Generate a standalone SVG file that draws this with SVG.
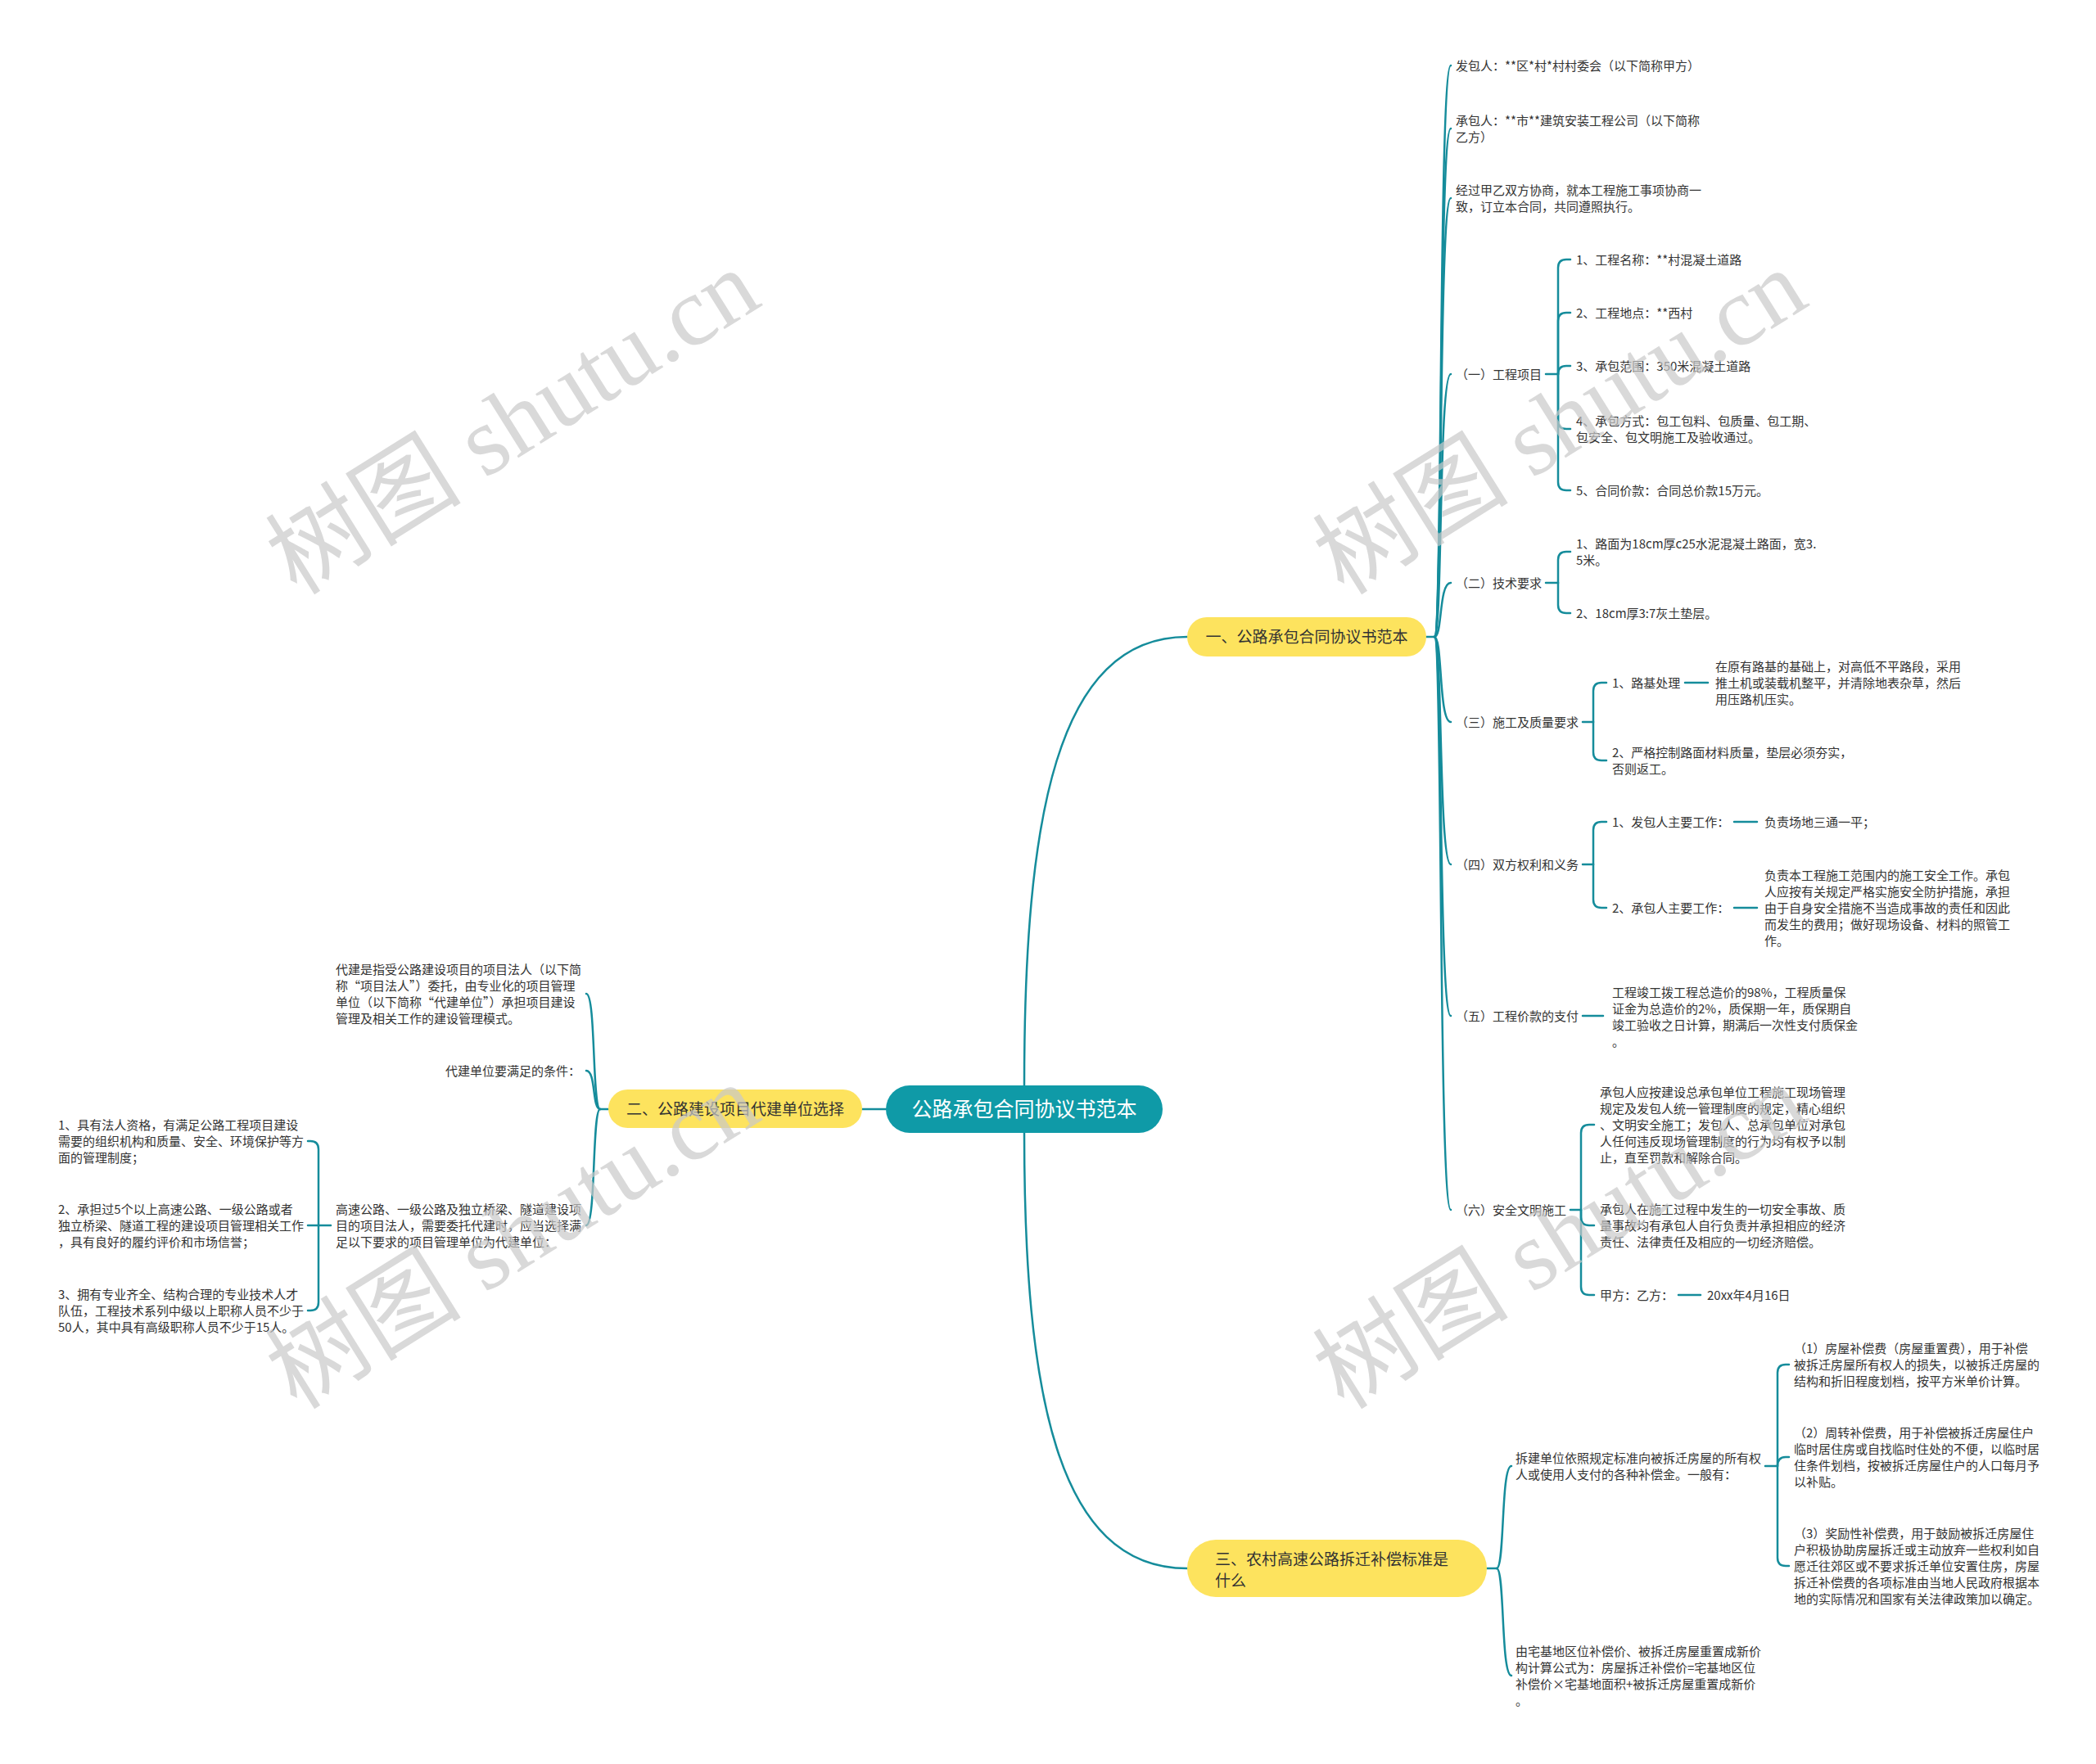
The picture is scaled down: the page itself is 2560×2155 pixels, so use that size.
<svg xmlns="http://www.w3.org/2000/svg" width="2560" height="2155" viewBox="0 0 2560 2155">
<style>
.t{font-family:"Noto Sans CJK SC","Noto Sans",sans-serif;font-size:15px;fill:#333}
.b{font-family:"Noto Sans CJK SC","Noto Sans",sans-serif;font-size:19px;fill:#333}
.r{font-family:"Noto Sans CJK SC","Noto Sans",sans-serif;font-size:25px;fill:#fff}
.c{fill:none;stroke:#158c9b;stroke-width:2.5;stroke-linecap:round;stroke-linejoin:round}
.pill{fill:#fde35e}
.root{fill:#0f9aa7}
.wm{font-family:"Liberation Serif","Noto Sans CJK SC",serif;font-size:120px;fill:#c9c9c9;opacity:.7}
</style>
<rect width="2560" height="2155" fill="#fff"/>
<g id="connectors">
<path class="c" d="M1251,1326 C1251,1000 1290,778 1450,778"/>
<path class="c" d="M1251,1384 C1251,1700 1290,1916 1450,1916"/>
<path class="c" d="M1082,1355 L1053,1355"/>
<path class="c" d="M1742,778 L1752,778"/>
<path class="c" d="M1752,778 C1762,778 1757,80 1772,80"/>
<path class="c" d="M1752,778 C1762,778 1757,157 1772,157"/>
<path class="c" d="M1752,778 C1762,778 1757,242 1772,242"/>
<path class="c" d="M1752,778 C1762,778 1757,457 1772,457"/>
<path class="c" d="M1752,778 C1762,778 1757,712 1772,712"/>
<path class="c" d="M1752,778 C1762,778 1757,882 1772,882"/>
<path class="c" d="M1752,778 C1762,778 1757,1056 1772,1056"/>
<path class="c" d="M1752,778 C1762,778 1757,1241 1772,1241"/>
<path class="c" d="M1752,778 C1762,778 1757,1478 1772,1478"/>
<path class="c" d="M1888,457 L1903,457"/>
<path class="c" d="M1903,457 L1903,327 Q1903,317 1913,317 L1918,317"/>
<path class="c" d="M1903,457 L1903,392 Q1903,382 1913,382 L1918,382"/>
<path class="c" d="M1903,457 Q1903,447 1913,447 L1918,447"/>
<path class="c" d="M1903,457 L1903,514 Q1903,524 1913,524 L1918,524"/>
<path class="c" d="M1903,457 L1903,589 Q1903,599 1913,599 L1918,599"/>
<path class="c" d="M1888,712 L1903,712"/>
<path class="c" d="M1903,712 L1903,684 Q1903,674 1913,674 L1918,674"/>
<path class="c" d="M1903,712 L1903,739 Q1903,749 1913,749 L1918,749"/>
<path class="c" d="M1933,882 L1946,882"/>
<path class="c" d="M1946,882 L1946,844 Q1946,834 1956,834 L1962,834"/>
<path class="c" d="M1946,882 L1946,919 Q1946,929 1956,929 L1962,929"/>
<path class="c" d="M2058,834 L2086,834"/>
<path class="c" d="M1933,1056 L1946,1056"/>
<path class="c" d="M1946,1056 L1946,1014 Q1946,1004 1956,1004 L1962,1004"/>
<path class="c" d="M1946,1056 L1946,1099 Q1946,1109 1956,1109 L1962,1109"/>
<path class="c" d="M2118,1004 L2146,1004"/>
<path class="c" d="M2118,1109 L2146,1109"/>
<path class="c" d="M1933,1241 L1958,1241"/>
<path class="c" d="M1918,1478 L1931,1478"/>
<path class="c" d="M1931,1478 L1931,1384 Q1931,1374 1941,1374 L1947,1374"/>
<path class="c" d="M1931,1478 L1931,1487 Q1931,1497 1941,1497 L1947,1497"/>
<path class="c" d="M1931,1478 L1931,1572 Q1931,1582 1941,1582 L1947,1582"/>
<path class="c" d="M2050,1582 L2077,1582"/>
<path class="c" d="M1816,1916 L1828,1916"/>
<path class="c" d="M1828,1916 C1838,1916 1833,1791 1846,1791"/>
<path class="c" d="M1828,1916 C1838,1916 1833,2047 1846,2047"/>
<path class="c" d="M2156,1791 L2171,1791"/>
<path class="c" d="M2171,1791 L2171,1677 Q2171,1667 2181,1667 L2185,1667"/>
<path class="c" d="M2171,1791 Q2171,1780 2181,1780 L2185,1780"/>
<path class="c" d="M2171,1791 L2171,1903 Q2171,1913 2181,1913 L2185,1913"/>
<path class="c" d="M743,1355 L733,1355"/>
<path class="c" d="M733,1355 C723,1355 728,1214 716,1214"/>
<path class="c" d="M733,1355 C723,1355 728,1308 716,1308"/>
<path class="c" d="M733,1355 C723,1355 728,1497 716,1497"/>
<path class="c" d="M404,1497 L389,1497"/>
<path class="c" d="M389,1497 L389,1404 Q389,1394 379,1394 L376,1394"/>
<path class="c" d="M389,1497 L376,1497"/>
<path class="c" d="M389,1497 L389,1591 Q389,1601 379,1601 L376,1601"/>
</g>
<g id="root"><rect class="root" x="1082" y="1326" width="338" height="58" rx="29"/><text class="r" x="1251" y="1364" text-anchor="middle">公路承包合同协议书范本</text></g>
<g id="b1"><rect class="pill" x="1450" y="754" width="292" height="48" rx="24"/><text class="b" x="1596" y="785" text-anchor="middle">一、公路承包合同协议书范本</text></g>
<g id="b2"><rect class="pill" x="743" y="1331" width="310" height="47" rx="23.5"/><text class="b" x="898" y="1362" text-anchor="middle">二、公路建设项目代建单位选择</text></g>
<g id="b3"><rect class="pill" x="1450" y="1881" width="366" height="70" rx="35"/><text class="b"><tspan x="1484" y="1912">三、农村高速公路拆迁补偿标准是</tspan><tspan x="1484" y="1938">什么</tspan></text></g>
<g id="n1"><text class="t" x="1778" y="85.5">发包人：**区*村*村村委会（以下简称甲方）</text></g>
<g id="n2"><text class="t"><tspan x="1778" y="152.5">承包人：**市**建筑安装工程公司（以下简称</tspan><tspan x="1778" y="172.5">乙方）</tspan></text></g>
<g id="n3"><text class="t"><tspan x="1778" y="237.5">经过甲乙双方协商，就本工程施工事项协商一</tspan><tspan x="1778" y="257.5">致，订立本合同，共同遵照执行。</tspan></text></g>
<g id="s1"><text class="t" x="1778" y="462.5">（一）工程项目</text></g>
<g id="s1a"><text class="t" x="1925" y="322.5">1、工程名称：**村混凝土道路</text></g>
<g id="s1b"><text class="t" x="1925" y="387.5">2、工程地点：**西村</text></g>
<g id="s1c"><text class="t" x="1925" y="452.5">3、承包范围：350米混凝土道路</text></g>
<g id="s1d"><text class="t"><tspan x="1925" y="519.5">4、承包方式：包工包料、包质量、包工期、</tspan><tspan x="1925" y="539.5">包安全、包文明施工及验收通过。</tspan></text></g>
<g id="s1e"><text class="t" x="1925" y="604.5">5、合同价款：合同总价款15万元。</text></g>
<g id="s2"><text class="t" x="1778" y="717.5">（二）技术要求</text></g>
<g id="s2a"><text class="t"><tspan x="1925" y="669.5">1、路面为18cm厚c25水泥混凝土路面，宽3.</tspan><tspan x="1925" y="689.5">5米。</tspan></text></g>
<g id="s2b"><text class="t" x="1925" y="754.5">2、18cm厚3:7灰土垫层。</text></g>
<g id="s3"><text class="t" x="1778" y="887.5">（三）施工及质量要求</text></g>
<g id="s3a"><text class="t" x="1969" y="839.5">1、路基处理</text></g>
<g id="s3a1"><text class="t"><tspan x="2095" y="819.5">在原有路基的基础上，对高低不平路段，采用</tspan><tspan x="2095" y="839.5">推土机或装载机整平，并清除地表杂草，然后</tspan><tspan x="2095" y="859.5">用压路机压实。</tspan></text></g>
<g id="s3b"><text class="t"><tspan x="1969" y="924.5">2、严格控制路面材料质量，垫层必须夯实，</tspan><tspan x="1969" y="944.5">否则返工。</tspan></text></g>
<g id="s4"><text class="t" x="1778" y="1061.5">（四）双方权利和义务</text></g>
<g id="s4a"><text class="t" x="1969" y="1009.5">1、发包人主要工作：</text></g>
<g id="s4a1"><text class="t" x="2155" y="1009.5">负责场地三通一平；</text></g>
<g id="s4b"><text class="t" x="1969" y="1114.5">2、承包人主要工作：</text></g>
<g id="s4b1"><text class="t"><tspan x="2155" y="1074.5">负责本工程施工范围内的施工安全工作。承包</tspan><tspan x="2155" y="1094.5">人应按有关规定严格实施安全防护措施，承担</tspan><tspan x="2155" y="1114.5">由于自身安全措施不当造成事故的责任和因此</tspan><tspan x="2155" y="1134.5">而发生的费用；做好现场设备、材料的照管工</tspan><tspan x="2155" y="1154.5">作。</tspan></text></g>
<g id="s5"><text class="t" x="1778" y="1246.5">（五）工程价款的支付</text></g>
<g id="s5a"><text class="t"><tspan x="1969" y="1217.5">工程竣工拨工程总造价的98%，工程质量保</tspan><tspan x="1969" y="1237.5">证金为总造价的2%，质保期一年，质保期自</tspan><tspan x="1969" y="1257.5">竣工验收之日计算，期满后一次性支付质保金</tspan><tspan x="1969" y="1277.5">。</tspan></text></g>
<g id="s6"><text class="t" x="1778" y="1483.5">（六）安全文明施工</text></g>
<g id="s6a"><text class="t"><tspan x="1954" y="1339.5">承包人应按建设总承包单位工程施工现场管理</tspan><tspan x="1954" y="1359.5">规定及发包人统一管理制度的规定，精心组织</tspan><tspan x="1954" y="1379.5">、文明安全施工；发包人、总承包单位对承包</tspan><tspan x="1954" y="1399.5">人任何违反现场管理制度的行为均有权予以制</tspan><tspan x="1954" y="1419.5">止，直至罚款和解除合同。</tspan></text></g>
<g id="s6b"><text class="t"><tspan x="1954" y="1482.5">承包人在施工过程中发生的一切安全事故、质</tspan><tspan x="1954" y="1502.5">量事故均有承包人自行负责并承担相应的经济</tspan><tspan x="1954" y="1522.5">责任、法律责任及相应的一切经济赔偿。</tspan></text></g>
<g id="s6c"><text class="t" x="1954" y="1587.5">甲方：乙方：</text></g>
<g id="s6c1"><text class="t" x="2085" y="1587.5">20xx年4月16日</text></g>
<g id="c1"><text class="t"><tspan x="1851" y="1786.5">拆建单位依照规定标准向被拆迁房屋的所有权</tspan><tspan x="1851" y="1806.5">人或使用人支付的各种补偿金。一般有：</tspan></text></g>
<g id="c1a"><text class="t"><tspan x="2191" y="1652.5">（1）房屋补偿费（房屋重置费），用于补偿</tspan><tspan x="2191" y="1672.5">被拆迁房屋所有权人的损失，以被拆迁房屋的</tspan><tspan x="2191" y="1692.5">结构和折旧程度划档，按平方米单价计算。</tspan></text></g>
<g id="c1b"><text class="t"><tspan x="2191" y="1755.5">（2）周转补偿费，用于补偿被拆迁房屋住户</tspan><tspan x="2191" y="1775.5">临时居住房或自找临时住处的不便，以临时居</tspan><tspan x="2191" y="1795.5">住条件划档，按被拆迁房屋住户的人口每月予</tspan><tspan x="2191" y="1815.5">以补贴。</tspan></text></g>
<g id="c1c"><text class="t"><tspan x="2191" y="1878.5">（3）奖励性补偿费，用于鼓励被拆迁房屋住</tspan><tspan x="2191" y="1898.5">户积极协助房屋拆迁或主动放弃一些权利如自</tspan><tspan x="2191" y="1918.5">愿迁往郊区或不要求拆迁单位安置住房，房屋</tspan><tspan x="2191" y="1938.5">拆迁补偿费的各项标准由当地人民政府根据本</tspan><tspan x="2191" y="1958.5">地的实际情况和国家有关法律政策加以确定。</tspan></text></g>
<g id="c2"><text class="t"><tspan x="1851" y="2022.5">由宅基地区位补偿价、被拆迁房屋重置成新价</tspan><tspan x="1851" y="2042.5">构计算公式为：房屋拆迁补偿价=宅基地区位</tspan><tspan x="1851" y="2062.5">补偿价×宅基地面积+被拆迁房屋重置成新价</tspan><tspan x="1851" y="2082.5">。</tspan></text></g>
<g id="l1"><text class="t"><tspan x="410" y="1189.5">代建是指受公路建设项目的项目法人（以下简</tspan><tspan x="410" y="1209.5">称“项目法人”）委托，由专业化的项目管理</tspan><tspan x="410" y="1229.5">单位（以下简称“代建单位”）承担项目建设</tspan><tspan x="410" y="1249.5">管理及相关工作的建设管理模式。</tspan></text></g>
<g id="l2"><text class="t" x="709" y="1313.5" text-anchor="end">代建单位要满足的条件：</text></g>
<g id="l3"><text class="t"><tspan x="410" y="1482.5">高速公路、一级公路及独立桥梁、隧道建设项</tspan><tspan x="410" y="1502.5">目的项目法人，需要委托代建时，应当选择满</tspan><tspan x="410" y="1522.5">足以下要求的项目管理单位为代建单位：</tspan></text></g>
<g id="l3a"><text class="t"><tspan x="71" y="1379.5">1、具有法人资格，有满足公路工程项目建设</tspan><tspan x="71" y="1399.5">需要的组织机构和质量、安全、环境保护等方</tspan><tspan x="71" y="1419.5">面的管理制度；</tspan></text></g>
<g id="l3b"><text class="t"><tspan x="71" y="1482.5">2、承担过5个以上高速公路、一级公路或者</tspan><tspan x="71" y="1502.5">独立桥梁、隧道工程的建设项目管理相关工作</tspan><tspan x="71" y="1522.5">，具有良好的履约评价和市场信誉；</tspan></text></g>
<g id="l3c"><text class="t"><tspan x="71" y="1586.5">3、拥有专业齐全、结构合理的专业技术人才</tspan><tspan x="71" y="1606.5">队伍，工程技术系列中级以上职称人员不少于</tspan><tspan x="71" y="1626.5">50人，其中具有高级职称人员不少于15人。</tspan></text></g>
<g id="watermark">
<text class="wm" text-anchor="middle" transform="translate(648,550) rotate(-32)">树图 shutu.cn</text>
<text class="wm" text-anchor="middle" transform="translate(1927,550) rotate(-32)">树图 shutu.cn</text>
<text class="wm" text-anchor="middle" transform="translate(648,1545) rotate(-32)">树图 shutu.cn</text>
<text class="wm" text-anchor="middle" transform="translate(1927,1545) rotate(-32)">树图 shutu.cn</text>
</g>
</svg>
